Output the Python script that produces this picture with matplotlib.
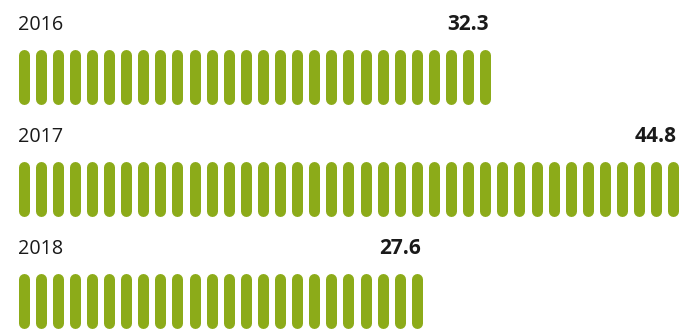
import numpy as np
import matplotlib
matplotlib.use('Agg')
import matplotlib.pyplot as plt

years = ['2016', '2017', '2018']
values = [32.3, 44.8, 27.6]
bar_counts = [28, 39, 24]   # one pill per ~1.15 units

GREEN = '#8cab19'
W, H = 684, 329
pitch = 17.1            # px between pills
x0 = 23.5               # centre of first pill, px
pill_w = 11             # px
row_top = [49, 161, 273]
row_h = 55

fig = plt.figure(figsize=(W / 100, H / 100), dpi=100)
ax = fig.add_axes([0, 0, 1, 1])
ax.set_xlim(-x0 / pitch, (W - x0) / pitch)
ax.set_ylim(H, 0)
ax.axis('off')

lw_pt = pill_w * 72 / 100
r = pill_w / 2
for yr, v, n, top in zip(years, values, bar_counts, row_top):
    idx = np.arange(n)
    ax.vlines(idx, top + r, top + row_h - r, colors=GREEN, linewidth=lw_pt,
              capstyle='round')
    ax.text(-r / pitch, top - 19, yr, ha='left', va='baseline',
            fontsize=14.2, family='Open Sans', color='#1a1a1a')
    ax.text(n - 1 + r / pitch - 0.1, top - 19, f'{v:.1f}', ha='right', va='baseline',
            fontsize=15, family='Open Sans', fontweight='bold', color='#1a1a1a')

fig.savefig('out.png', dpi=100)
